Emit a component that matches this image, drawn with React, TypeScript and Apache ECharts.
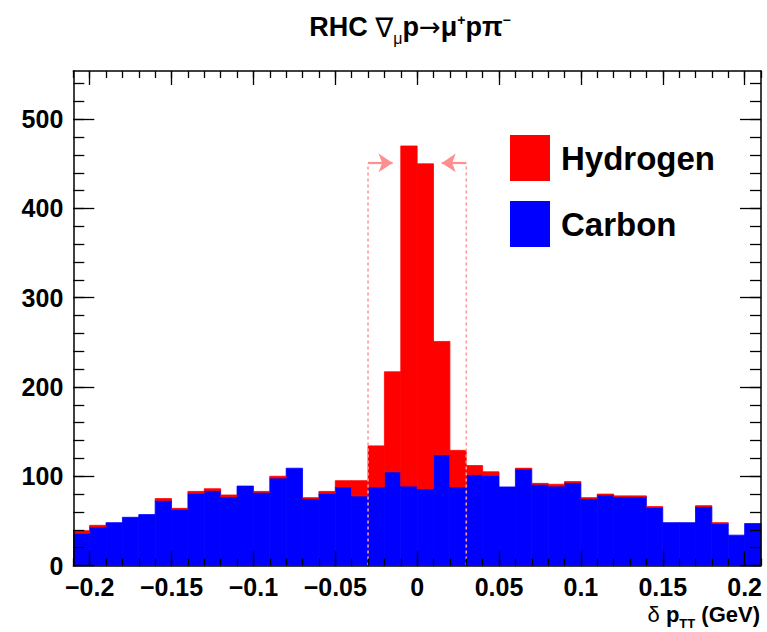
import React, { useEffect, useRef } from "react";
import * as echarts from "echarts";

// ---- data ----
const binLow = [
  -0.21, -0.2, -0.19, -0.18, -0.17, -0.16, -0.15, -0.14, -0.13, -0.12, -0.11,
  -0.1, -0.09, -0.08, -0.07, -0.06, -0.05, -0.04, -0.03, -0.02, -0.01, 0, 0.01,
  0.02, 0.03, 0.04, 0.05, 0.06, 0.07, 0.08, 0.09, 0.1, 0.11, 0.12, 0.13, 0.14,
  0.15, 0.16, 0.17, 0.18, 0.19, 0.2,
];
const binWidth = 0.01;
const carbon = [
  36, 43, 48, 54, 57, 73, 63, 81, 84, 77, 89, 82, 98, 109, 75, 81, 88, 78, 88,
  105, 89, 86, 124, 88, 102, 101, 88, 108, 91, 89, 93, 75, 79, 77, 77, 65, 48,
  48, 66, 47, 34, 47,
];
const hydrogen = [
  3, 2, 0, 0, 0, 2, 1, 2, 2, 2, 0, 1, 2, 0, 1, 2, 7, 17, 46, 112, 381, 364, 127,
  41, 10, 4, 0, 1, 1, 2, 1, 1, 1, 1, 1, 1, 0, 0, 1, 1, 0, 0,
];
const seriesNames = ["Hydrogen", "Carbon"];
const xTickValues = [-0.2, -0.15, -0.1, -0.05, 0, 0.05, 0.1, 0.15, 0.2];
const xTickLabels = ["\u22120.2", "\u22120.15", "\u22120.1", "\u22120.05", "0", "0.05", "0.1", "0.15", "0.2"];
const yTickValues = [0, 100, 200, 300, 400, 500];
const yTickLabels = ["0", "100", "200", "300", "400", "500"];
const xMin = -0.21;
const xMax = 0.21;
const yMax = 554;
const cutLow = -0.03;
const cutHigh = 0.03;
const cutArrowY = 451;
const arrowTipLow = -0.015;
const arrowTipHigh = 0.015;

// minor tick positions (axis decoration only)
const xMinorValues: number[] = [];
for (let i = -21; i <= 21; i++) xMinorValues.push(Math.round(i) / 100);
const yMinorValues: number[] = [];
for (let v = 0; v <= 540; v += 20) yMinorValues.push(v);

const FONT = '"Liberation Sans", Arial, Helvetica, sans-serif';
const RED = "#ff0000";
const BLUE = "#0000ff";

const fmtX = (v: number) => {
  const i = xTickValues.findIndex((t) => Math.abs(t - v) < 1e-9);
  return i >= 0 ? xTickLabels[i] : "";
};
const fmtY = (v: number) => {
  const i = yTickValues.findIndex((t) => Math.abs(t - v) < 1e-9);
  return i >= 0 ? yTickLabels[i] : "";
};

const makeRender = (color: string) => (params: any, api: any) => {
  const x0 = api.value(0);
  const base = api.value(1);
  const top = api.value(2);
  const p0 = api.coord([x0, base]);
  const p1 = api.coord([x0 + binWidth, top]);
  const h = p0[1] - p1[1];
  if (h <= 0) return null;
  return {
    type: "rect",
    shape: { x: p0[0], y: p1[1], width: p1[0] - p0[0], height: h },
    style: { fill: color, stroke: color, lineWidth: 0.8 },
  };
};

export default function App() {
  const ref = useRef<HTMLDivElement>(null);
  useEffect(() => {
    const chart = echarts.init(ref.current!, null, { renderer: "svg" });
    const axisLineStyle = { color: "#000", width: 1.5 };
    const tickStyle = { color: "#000", width: 1.3 };
    const baseX = {
      type: "value",
      min: xMin,
      max: xMax,
      z: 10,
      splitLine: { show: false },
      axisLine: { show: true, onZero: false, lineStyle: axisLineStyle },
    };
    const baseY = {
      type: "value",
      min: 0,
      max: yMax,
      z: 10,
      splitLine: { show: false },
      axisLine: { show: true, onZero: false, lineStyle: axisLineStyle },
    };
    const labelStyle = {
      fontSize: 25,
      fontWeight: "bold",
      fontFamily: FONT,
      color: "#000",
    };
    const option: any = {
      animation: false,
      grid: { left: 73.3, right: 6, top: 71, bottom: 66.5, containLabel: false },
      xAxis: [
        {
          ...baseX,
          position: "bottom",
          axisTick: { show: true, inside: true, length: 14, customValues: xTickValues, lineStyle: tickStyle },
          axisLabel: { show: true, customValues: xTickValues, formatter: fmtX, margin: 9, ...labelStyle },
        },
        {
          ...baseX,
          position: "bottom",
          axisLine: { show: false, onZero: false },
          axisTick: { show: true, inside: true, length: 7, customValues: xMinorValues, lineStyle: tickStyle },
          axisLabel: { show: false },
        },
        {
          ...baseX,
          position: "top",
          axisTick: { show: true, inside: true, length: 14, customValues: xTickValues, lineStyle: tickStyle },
          axisLabel: { show: false },
        },
        {
          ...baseX,
          position: "top",
          axisLine: { show: false, onZero: false },
          axisTick: { show: true, inside: true, length: 7, customValues: xMinorValues, lineStyle: tickStyle },
          axisLabel: { show: false },
        },
      ],
      yAxis: [
        {
          ...baseY,
          position: "left",
          axisTick: { show: true, inside: true, length: 21, customValues: yTickValues, lineStyle: tickStyle },
          axisLabel: { show: true, customValues: yTickValues, formatter: fmtY, margin: 10, ...labelStyle },
        },
        {
          ...baseY,
          position: "left",
          axisLine: { show: false, onZero: false },
          axisTick: { show: true, inside: true, length: 11, customValues: yMinorValues, lineStyle: tickStyle },
          axisLabel: { show: false },
        },
        {
          ...baseY,
          position: "right",
          axisTick: { show: true, inside: true, length: 21, customValues: yTickValues, lineStyle: tickStyle },
          axisLabel: { show: false },
        },
        {
          ...baseY,
          position: "right",
          axisLine: { show: false, onZero: false },
          axisTick: { show: true, inside: true, length: 11, customValues: yMinorValues, lineStyle: tickStyle },
          axisLabel: { show: false },
        },
      ],
      legend: {
        data: seriesNames,
        orient: "vertical",
        left: 510,
        top: 135,
        padding: 0,
        itemWidth: 40,
        itemHeight: 46,
        itemGap: 20,
        icon: "rect",
        selectedMode: false,
        textStyle: {
          fontSize: 33,
          fontWeight: "bold",
          fontFamily: FONT,
          color: "#000",
          padding: [0, 0, 0, 6],
        },
      },
      series: [
        {
          type: "custom",
          name: "Carbon",
          xAxisIndex: 0,
          yAxisIndex: 0,
          clip: true,
          z: 2,
          itemStyle: { color: BLUE },
          renderItem: makeRender(BLUE),
          encode: { x: 0, y: 2 },
          data: carbon.map((c, i) => [binLow[i], 0, c]),
        },
        {
          type: "custom",
          name: "Hydrogen",
          xAxisIndex: 0,
          yAxisIndex: 0,
          clip: true,
          z: 3,
          itemStyle: { color: RED },
          renderItem: makeRender(RED),
          encode: { x: 0, y: 2 },
          data: hydrogen.map((h, i) => [binLow[i], carbon[i], carbon[i] + h]),
        },
        ...[
          [cutLow, arrowTipLow],
          [cutHigh, arrowTipHigh],
        ].map(([cx, tip], k) => ({
          type: "line",
          name: "cut" + k,
          xAxisIndex: 0,
          yAxisIndex: 0,
          z: 5,
          silent: true,
          symbol: "none",
          lineStyle: { color: "#ff9a9a", type: [3, 3], width: 1.6 },
          data: [
            [cx, 0],
            [cx, cutArrowY],
          ],
          markLine: {
            silent: true,
            animation: false,
            symbol: ["none", "arrow"],
            symbolSize: [14, 14],
            label: { show: false },
            lineStyle: { color: "#ff8f8f", type: "solid", width: 2.2 },
            data: [[{ coord: [cx, cutArrowY] }, { coord: [tip, cutArrowY] }]],
          },
        })),
      ],
      graphic: [
        {
          type: "text",
          x: 410,
          y: 8,
          style: {
            text: "{b|RHC }{g|\u2207}{sub|\u03bc}{b|p}{a|\u2192}{b|\u03bc}{sup|+}{b|p\u03c0}{sup|\u2212}",
            align: "center",
            verticalAlign: "top",
            rich: {
              b: { fontSize: 27, fontWeight: "bold", fontFamily: FONT, color: "#000", lineHeight: 38 },
              g: { fontSize: 27, fontFamily: '"DejaVu Sans", sans-serif', color: "#000", lineHeight: 38 },
              a: { fontSize: 26, fontFamily: '"DejaVu Sans", sans-serif', color: "#000", lineHeight: 38 },
              sub: { fontSize: 16, fontFamily: FONT, color: "#000", lineHeight: 16, verticalAlign: "bottom" },
              sup: { fontSize: 14, fontWeight: "bold", fontFamily: FONT, color: "#000", lineHeight: 14, verticalAlign: "top", padding: [5, 0, 0, 0] },
            },
          },
        },
        {
          type: "text",
          x: 760,
          y: 598,
          style: {
            text: "{d|\u03b4 }{b|p}{sub|TT}{b| (GeV)}",
            align: "right",
            verticalAlign: "top",
            rich: {
              d: { fontSize: 22, fontFamily: FONT, color: "#000", lineHeight: 32 },
              b: { fontSize: 22, fontWeight: "bold", fontFamily: FONT, color: "#000", lineHeight: 32 },
              sub: { fontSize: 13, fontWeight: "bold", fontFamily: FONT, color: "#000", lineHeight: 13, verticalAlign: "bottom" },
            },
          },
        },
      ],
    };
    chart.setOption(option);
    return () => chart.dispose();
  }, []);
  return (
    <div
      ref={ref}
      style={{ position: "fixed", left: 0, top: 0, width: 767, height: 632, background: "#fff" }}
    />
  );
}
